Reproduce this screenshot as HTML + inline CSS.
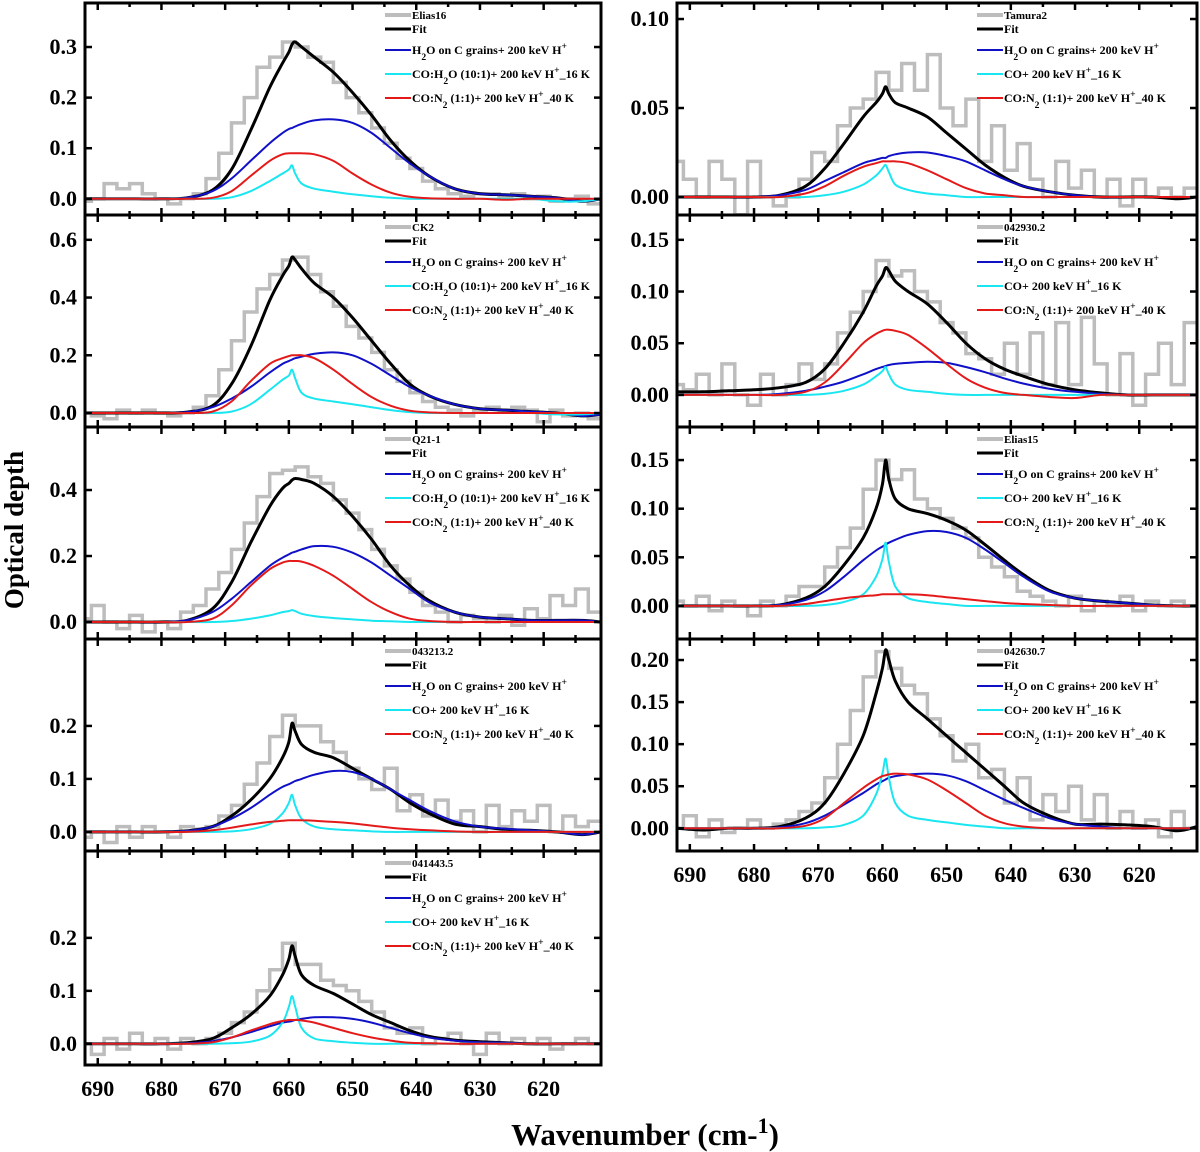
<!DOCTYPE html>
<html><head><meta charset="utf-8"><style>
html,body{margin:0;padding:0;background:#fff;}
svg{display:block;font-family:"Liberation Serif",serif;font-weight:bold;}
</style></head><body>
<svg id="chart" width="1200" height="1152" viewBox="0 0 1200 1152" xmlns="http://www.w3.org/2000/svg">
<text transform="translate(23,530) rotate(-90)" text-anchor="middle" font-size="27">Optical depth</text>
<text x="645" y="1145" text-anchor="middle" font-size="31">Wavenumber (cm-<tspan baseline-shift="super" font-size="22">1</tspan>)</text>
</svg>
<script>
const WN = [692,688,684,680,676,672,669,666,663,661,660,659.5,659,658,656,653,650,647,644,641,638,634,630,626,622,618,614,611];
const WN2 = [692,690,688,686,684,682,680,678,676,674,672,670,668,666,664,662,660,658,656,654,652,650,648,646,644,642,640,638,636,634,632,630,628,626,624,622,620,618,616,614,612];
const X_TICKS = [690,680,670,660,650,640,630,620];

const e16Blue=[0,0,0,0,0.002,0.015,0.04,0.075,0.11,0.13,0.138,0.14,0.143,0.148,0.155,0.157,0.15,0.13,0.10,0.07,0.045,0.02,0.01,0.008,0.005,0.002,-0.005,0];
const e16Red=[0,0,0,0,0,0.002,0.015,0.045,0.075,0.088,0.09,0.09,0.09,0.09,0.088,0.075,0.05,0.028,0.012,0.004,0.001,0,0,-0.002,0,0,0,0];
const e16Cyan=[0,0,0,0,0,0,0.003,0.015,0.035,0.05,0.058,0.066,0.05,0.03,0.02,0.014,0.009,0.005,0.002,0,0,0,0,0,0,-0.005,-0.005,0];
const e16Fit=[0,0,0,0,0.002,0.017,0.058,0.135,0.22,0.268,0.29,0.305,0.31,0.3,0.28,0.25,0.21,0.165,0.115,0.075,0.045,0.02,0.01,0.008,0.005,0.002,-0.005,0];
const e16Obs=[-0.005,0,0.03,0.02,0.03,0.01,0,-0.01,0,0.01,0.04,0.09,0.15,0.2,0.26,0.28,0.31,0.3,0.28,0.27,0.23,0.2,0.17,0.14,0.11,0.08,0.06,0.035,0.02,0.01,0.005,0.01,0.01,0.005,0.01,0,0.005,-0.005,0,0.005,-0.01];

const ck2Blue=[0,0,0,0,0.003,0.02,0.05,0.09,0.14,0.17,0.18,0.185,0.19,0.195,0.205,0.21,0.2,0.17,0.13,0.09,0.06,0.03,0.015,0.01,0.005,0,-0.01,-0.005];
const ck2Red=[0,0,0,0,0,0.005,0.04,0.11,0.17,0.19,0.197,0.2,0.2,0.2,0.19,0.15,0.1,0.055,0.025,0.008,0.002,0,0,0,0,0,0,0];
const ck2Cyan=[0,0,0,0,0,0,0.005,0.03,0.08,0.115,0.13,0.15,0.12,0.07,0.05,0.04,0.03,0.02,0.01,0.003,0,0,0,0,0,-0.005,-0.005,0];
const ck2Fit=[0,0,0,0,0.003,0.025,0.1,0.23,0.39,0.475,0.51,0.54,0.53,0.5,0.45,0.4,0.33,0.25,0.17,0.1,0.06,0.03,0.015,0.01,0.005,0,-0.01,-0.005];
const ck2Obs=[0,-0.01,-0.02,0.01,0,0.01,0,-0.01,0,0.02,0.06,0.15,0.25,0.35,0.43,0.48,0.53,0.54,0.48,0.42,0.37,0.3,0.26,0.21,0.15,0.11,0.07,0.04,0.02,0.01,-0.01,0.01,0.02,0.01,0.02,0.01,-0.03,0.01,-0.01,0,-0.02];

const q21Blue=[0,0,0,0,0.005,0.03,0.07,0.12,0.17,0.195,0.205,0.21,0.213,0.22,0.23,0.228,0.21,0.18,0.14,0.1,0.06,0.03,0.015,0.01,0.005,0.005,0.005,0];
const q21Red=[0,0,0,0,0,0.01,0.05,0.11,0.16,0.18,0.185,0.185,0.185,0.183,0.17,0.14,0.1,0.06,0.03,0.01,0.003,0,0,0,0,0,0,0];
const q21Cyan=[0,0,0,0,0,0,0.003,0.01,0.02,0.03,0.033,0.036,0.033,0.025,0.018,0.012,0.008,0.004,0.002,0,0,0,0,0,0,0,0,0];
const q21Fit=[0,0,0,0,0.005,0.04,0.12,0.24,0.35,0.405,0.42,0.43,0.435,0.432,0.42,0.38,0.32,0.25,0.17,0.11,0.065,0.03,0.015,0.01,0.005,0.005,0.005,0];
const q21Obs=[0.01,0.05,0,-0.02,0.02,-0.03,0,-0.02,0.03,0.05,0.1,0.15,0.22,0.3,0.38,0.45,0.46,0.47,0.44,0.42,0.37,0.33,0.28,0.22,0.17,0.13,0.09,0.05,0.03,0,0.02,0.01,0,0.02,-0.01,0.04,0.01,0.08,0.05,0.1,0.03];

const s43Blue=[0,0,0,0,0.002,0.01,0.025,0.045,0.07,0.085,0.09,0.093,0.096,0.1,0.108,0.115,0.113,0.1,0.08,0.06,0.04,0.02,0.01,0.006,0.003,0,-0.005,0];
const s43Red=[0,0,0,0,0,0.003,0.008,0.014,0.019,0.021,0.022,0.022,0.022,0.022,0.021,0.019,0.016,0.012,0.008,0.005,0.003,0.001,0,0,0,0,0,0];
const s43Cyan=[0,0,0,0,0,0,0.001,0.005,0.015,0.035,0.055,0.07,0.05,0.025,0.01,0.005,0.003,0.001,0,0,0,0,0,0,0,0,0,0];
const s43Fit=[0,0,0,0,0.002,0.01,0.03,0.06,0.1,0.14,0.17,0.205,0.19,0.165,0.15,0.14,0.12,0.1,0.08,0.055,0.035,0.015,0.01,0.005,0.003,0,-0.005,0];
const s43Obs=[-0.01,0,-0.02,0.01,-0.01,0.01,0,-0.01,0.01,0.005,0.01,0.03,0.05,0.09,0.13,0.18,0.22,0.2,0.2,0.17,0.15,0.12,0.1,0.08,0.12,0.04,0.07,0.03,0.06,0.02,0.04,0,0.05,0.01,0.04,0.02,0.05,0,0.03,0.01,0.02];

const s41Blue=[0,0,0,0,0.001,0.005,0.012,0.022,0.033,0.04,0.042,0.043,0.045,0.047,0.05,0.05,0.047,0.04,0.03,0.02,0.012,0.006,0.003,0.002,0,0,0,0];
const s41Red=[0,0,0,0,0,0.003,0.012,0.025,0.037,0.043,0.045,0.045,0.045,0.044,0.04,0.03,0.02,0.012,0.006,0.002,0.001,0,0,0,0,0,0,0];
const s41Cyan=[0,0,0,0,0,0,0.001,0.004,0.015,0.04,0.07,0.09,0.07,0.03,0.01,0.005,0.002,0,0,0,0,0,0,0,0,0,0,0];
const s41Fit=[0,0,0,0,0.002,0.01,0.03,0.055,0.09,0.13,0.16,0.185,0.165,0.13,0.11,0.095,0.075,0.055,0.04,0.025,0.014,0.007,0.004,0.002,0,0,0,0];
const s41Obs=[0,-0.02,0.01,-0.01,0.02,0,0.01,-0.01,0.01,0,0.01,0.02,0.04,0.06,0.1,0.14,0.19,0.15,0.15,0.12,0.11,0.1,0.08,0.06,0.03,0.02,0.03,0,0.01,0.02,0,-0.02,0.02,0,0.01,0,0.01,-0.01,0,0.01,0];

const tamBlue=[0,0,0,0,0.001,0.004,0.009,0.014,0.019,0.021,0.022,0.022,0.023,0.024,0.025,0.025,0.023,0.02,0.015,0.01,0.006,0.003,0.001,0,0,0,0,0];
const tamRed=[0,0,0,0,0,0.002,0.006,0.012,0.017,0.019,0.02,0.02,0.02,0.02,0.019,0.015,0.01,0.005,0.002,0.001,0,0,0,0,0,0,0,0];
const tamCyan=[0,0,0,0,0,0,0.001,0.003,0.007,0.012,0.016,0.018,0.014,0.007,0.004,0.002,0.001,0,0,0,0,0,0,0,0,0,0,0];
const tamFit=[0,0,0,0,0.001,0.006,0.016,0.03,0.045,0.053,0.058,0.062,0.058,0.053,0.05,0.045,0.036,0.027,0.018,0.011,0.006,0.003,0.001,0,0,0,-0.001,0];
const tamObs=[0.02,0.01,0,0.02,0.01,-0.01,0.02,0,-0.005,0,0.01,0.025,0.02,0.04,0.05,0.055,0.07,0.06,0.075,0.06,0.08,0.05,0.04,0.055,0.02,0.04,0.015,0.03,0.01,0,0.02,0.005,0.015,0,0.01,-0.005,0.01,0,0.005,0,0.005];

const s42Blue=[0,0,0,0,0.001,0.004,0.008,0.013,0.02,0.025,0.027,0.028,0.029,0.03,0.031,0.032,0.031,0.027,0.022,0.016,0.011,0.006,0.003,0.001,0,0,0,0];
const s42Red=[0,0,0,0,0,0.003,0.012,0.03,0.05,0.059,0.062,0.063,0.063,0.062,0.058,0.045,0.03,0.016,0.007,0.002,0,-0.002,-0.003,0,0,0,0,0];
const s42Cyan=[0,0,0,0,0,0,0.001,0.004,0.01,0.018,0.023,0.027,0.02,0.01,0.005,0.003,0.001,0,0,0,0,0,0,0,0,0,0,0];
const s42Fit=[0.003,0.003,0.004,0.005,0.007,0.012,0.025,0.05,0.08,0.105,0.115,0.123,0.12,0.11,0.1,0.088,0.07,0.05,0.035,0.025,0.018,0.01,0.005,0.002,0,0,0,0];
const s42Obs=[0.01,0.005,0.02,0,0.03,0,-0.01,0.02,0,0.01,0.03,0.015,0.03,0.06,0.08,0.1,0.13,0.115,0.12,0.1,0.09,0.07,0.06,0.04,0.035,0.02,0.05,0.02,0.06,0.01,0.07,0.01,0.075,0.03,0,0.04,-0.01,0.02,0.05,0.01,0.07];

const e15Blue=[0,0,0,0,0.001,0.006,0.015,0.03,0.047,0.057,0.061,0.063,0.065,0.068,0.073,0.077,0.076,0.07,0.058,0.044,0.03,0.015,0.008,0.005,0.003,0.001,0,0];
const e15Red=[0,0,0,0,0,0.002,0.005,0.008,0.01,0.011,0.012,0.012,0.012,0.012,0.012,0.011,0.009,0.007,0.005,0.003,0.002,0.001,0,0,0,0,0,0];
const e15Cyan=[0,0,0,0,0,0,0.001,0.004,0.012,0.03,0.048,0.065,0.045,0.02,0.008,0.004,0.002,0,0,0,0,0,0,0,0,0,0,0];
const e15Fit=[0,0,0,0,0.001,0.008,0.02,0.042,0.07,0.1,0.125,0.15,0.13,0.11,0.1,0.095,0.088,0.078,0.063,0.047,0.032,0.016,0.008,0.005,0.003,0.001,0,0];
const e15Obs=[0.005,0,0.01,-0.005,0.005,0,-0.01,0.005,0,0.01,0.02,0.02,0.04,0.06,0.08,0.12,0.15,0.13,0.14,0.11,0.1,0.09,0.08,0.07,0.05,0.04,0.03,0.015,0.01,0.005,0,0.01,-0.005,0.005,0,0.01,-0.005,0.005,0,0.005,0];

const s26Blue=[0,0,0,0,0.001,0.006,0.015,0.028,0.042,0.052,0.056,0.058,0.06,0.062,0.064,0.065,0.063,0.056,0.045,0.034,0.024,0.012,0.005,0.002,0,0,0,0];
const s26Red=[0,0,0,0,0,0.003,0.012,0.03,0.048,0.058,0.062,0.063,0.064,0.065,0.064,0.058,0.045,0.03,0.015,0.006,0.002,0,0,0,0,0,0,0];
const s26Cyan=[0,0,0,0,0,0,0.001,0.004,0.015,0.04,0.065,0.083,0.06,0.03,0.015,0.01,0.007,0.004,0.002,0,0,0,0,0,0,0,0,0];
const s26Fit=[0,-0.002,0,0,0.002,0.012,0.03,0.065,0.11,0.16,0.19,0.212,0.2,0.175,0.15,0.13,0.11,0.09,0.07,0.05,0.03,0.015,0.005,0.005,0.004,0.002,-0.003,0.002];
const s26Obs=[0,0.015,-0.01,0.01,-0.005,0,0.01,0,0.005,0.01,0.02,0.03,0.06,0.1,0.14,0.18,0.21,0.19,0.17,0.16,0.13,0.11,0.08,0.1,0.06,0.07,0.03,0.06,0.01,0.04,0.02,0.05,0.01,0.04,0,0.02,0,0.01,-0.01,0.02,0];

const LEG_A = ['H2O on C grains+ 200 keV H+','CO:H2O (10:1)+ 200 keV H+_16 K','CO:N2 (1:1)+ 200 keV H+_40 K'];
const LEG_B = ['H2O on C grains+ 200 keV H+','CO+ 200 keV H+_16 K','CO:N2 (1:1)+ 200 keV H+_40 K'];

const panels = [
 {id:'elias16',name:'Elias16',col:0,top:3,bot:215,ymin:-0.032,ymax:0.387,ticks:['0.0','0.1','0.2','0.3'],obs:e16Obs,fit:e16Fit,blue:e16Blue,cyan:e16Cyan,red:e16Red,leg:LEG_A,xlab:false},
 {id:'ck2',name:'CK2',col:0,top:215,bot:427,ymin:-0.0485,ymax:0.686,ticks:['0.0','0.2','0.4','0.6'],obs:ck2Obs,fit:ck2Fit,blue:ck2Blue,cyan:ck2Cyan,red:ck2Red,leg:LEG_A,xlab:false},
 {id:'q21-1',name:'Q21-1',col:0,top:427,bot:639,ymin:-0.0515,ymax:0.591,ticks:['0.0','0.2','0.4'],obs:q21Obs,fit:q21Fit,blue:q21Blue,cyan:q21Cyan,red:q21Red,leg:LEG_A,xlab:false},
 {id:'043213',name:'043213.2',col:0,top:639,bot:851,ymin:-0.036,ymax:0.364,ticks:['0.0','0.1','0.2'],obs:s43Obs,fit:s43Fit,blue:s43Blue,cyan:s43Cyan,red:s43Red,leg:LEG_B,xlab:false},
 {id:'041443',name:'041443.5',col:0,top:851,bot:1065,ymin:-0.04,ymax:0.364,ticks:['0.0','0.1','0.2'],obs:s41Obs,fit:s41Fit,blue:s41Blue,cyan:s41Cyan,red:s41Red,leg:LEG_B,xlab:true},
 {id:'tamura2',name:'Tamura2',col:1,top:3,bot:215,ymin:-0.0101,ymax:0.109,ticks:['0.00','0.05','0.10'],obs:tamObs,fit:tamFit,blue:tamBlue,cyan:tamCyan,red:tamRed,leg:LEG_B,xlab:false},
 {id:'042930',name:'042930.2',col:1,top:215,bot:427,ymin:-0.031,ymax:0.174,ticks:['0.00','0.05','0.10','0.15'],obs:s42Obs,fit:s42Fit,blue:s42Blue,cyan:s42Cyan,red:s42Red,leg:LEG_B,xlab:false},
 {id:'elias15',name:'Elias15',col:1,top:427,bot:639,ymin:-0.034,ymax:0.184,ticks:['0.00','0.05','0.10','0.15'],obs:e15Obs,fit:e15Fit,blue:e15Blue,cyan:e15Cyan,red:e15Red,leg:LEG_B,xlab:false},
 {id:'042630',name:'042630.7',col:1,top:639,bot:851,ymin:-0.027,ymax:0.225,ticks:['0.00','0.05','0.10','0.15','0.20'],obs:s26Obs,fit:s26Fit,blue:s26Blue,cyan:s26Cyan,red:s26Red,leg:LEG_B,xlab:true}
];

const NS='http://www.w3.org/2000/svg';
const svg=document.getElementById('chart');
const COLS=[{x0:85,x1:601},{x0:677,x1:1197}];
const XMAX=692, XMIN=611;
function mk(tag,attrs,parent){const e=document.createElementNS(NS,tag);for(const k in attrs)e.setAttribute(k,attrs[k]);(parent||svg).appendChild(e);return e;}
function smoothPath(pts){
  let d='M'+pts[0][0].toFixed(1)+','+pts[0][1].toFixed(1);
  for(let i=0;i<pts.length-1;i++){
    const p0=pts[Math.max(0,i-1)],p1=pts[i],p2=pts[i+1],p3=pts[Math.min(pts.length-1,i+2)];
    const c1x=p1[0]+(p2[0]-p0[0])/6,c1y=p1[1]+(p2[1]-p0[1])/6;
    const c2x=p2[0]-(p3[0]-p1[0])/6,c2y=p2[1]-(p3[1]-p1[1])/6;
    d+=' C'+c1x.toFixed(1)+','+c1y.toFixed(1)+' '+c2x.toFixed(1)+','+c2y.toFixed(1)+' '+p2[0].toFixed(1)+','+p2[1].toFixed(1);
  }
  return d;
}
function addLabel(g,x,y,label,size){
  const t=mk('text',{x:x,y:y,'font-size':size},g);
  const re=/(H2O|N2|H\+)/g;let last=0,m;
  const txt=(s)=>{if(s){const ts=mk('tspan',{},t);ts.textContent=s;}};
  while((m=re.exec(label))){
    txt(label.slice(last,m.index));
    if(m[0]==='H+'){txt('H');const s=mk('tspan',{'baseline-shift':'super','font-size':size*0.8},t);s.textContent='+';}
    else{const base=m[0]==='H2O'?'H':'N';txt(base);const s=mk('tspan',{'baseline-shift':'sub','font-size':size*0.8},t);s.textContent='2';if(m[0]==='H2O'){const o=mk('tspan',{},t);o.textContent='O';}}
    last=m.index+m[0].length;
  }
  txt(label.slice(last));
  return t;
}
panels.forEach((p,pi)=>{
  const c=COLS[p.col];
  const g=mk('g',{});
  
  
  const xs=v=>c.x0+(XMAX-v)/(XMAX-XMIN)*(c.x1-c.x0);
  const ys=v=>p.bot-(v-p.ymin)/(p.ymax-p.ymin)*(p.bot-p.top);
  const cid='clip'+pi;
  const cp=mk('clipPath',{id:cid},g);
  mk('rect',{x:c.x0,y:p.top,width:c.x1-c.x0,height:p.bot-p.top},cp);
  const plot=mk('g',{'clip-path':'url(#'+cid+')'},g);
  let d='';
  p.obs.forEach((v,i)=>{const xa=xs(WN2[i]+1),xb=xs(WN2[i]-1),y=ys(v);d+=(i===0?'M':'L')+xa.toFixed(1)+','+y.toFixed(1)+' L'+xb.toFixed(1)+','+y.toFixed(1)+' ';});
  const obs=mk('path',{d:d,fill:'none',stroke:'#bdbdbd','stroke-width':3.5},plot);
  
  
  const series=[['fit','#000',3],['blue','#1010c8',2],['cyan','#19e6f0',2],['red','#e41a1a',2]];
  series.forEach(([k,col,w])=>{
    const pts=p[k].map((v,i)=>[xs(WN[i]),ys(v)]);
    const el=mk('path',{d:smoothPath(pts),fill:'none',stroke:col,'stroke-width':w,'stroke-linejoin':'round'},plot);
    
    
  });
  const fr=mk('rect',{x:c.x0,y:p.top,width:c.x1-c.x0,height:p.bot-p.top,fill:'none',stroke:'#000','stroke-width':3},g);
  
  
  for(let v=690;v>=615;v-=5){
    const x=xs(v),L=(v%10===0)?7:4;
    mk('line',{x1:x,x2:x,y1:p.bot,y2:p.bot-L,stroke:'#000','stroke-width':2.5},g);
    mk('line',{x1:x,x2:x,y1:p.top,y2:p.top+L,stroke:'#000','stroke-width':2.5},g);
  }
  p.ticks.forEach(tl=>{
    const v=parseFloat(tl),y=ys(v);
    mk('line',{x1:c.x0,x2:c.x0+7,y1:y,y2:y,stroke:'#000','stroke-width':2.5},g);
    mk('line',{x1:c.x1,x2:c.x1-7,y1:y,y2:y,stroke:'#000','stroke-width':2.5},g);
    const t=mk('text',{x:c.x0-8,y:y+7,'text-anchor':'end','font-size':22},g);
    t.textContent=tl;
    
    
  });
  if(p.xlab){
    X_TICKS.forEach(v=>{
      const t=mk('text',{x:xs(v),y:p.bot+31,'text-anchor':'middle','font-size':22},g);
      t.textContent=String(v);
      
      
    });
  }
  const lg=mk('g',{},g);
  
  
  const lx=c.x0+300;
  const rows=[[p.name,'#bdbdbd',4,16,11],['Fit','#000',3,30,12],[p.leg[0],'#1010c8',2,51,12],[p.leg[1],'#19e6f0',2,75,12],[p.leg[2],'#e41a1a',2,99,12]];
  rows.forEach(([lab,col,w,dy,fs])=>{
    const y=p.top+dy;
    mk('line',{x1:lx,x2:lx+26,y1:y-4,y2:y-4,stroke:col,'stroke-width':w},lg);
    const t=addLabel(lg,lx+27,y,lab,fs);
    
    
  });
});
</script>
</body></html>
